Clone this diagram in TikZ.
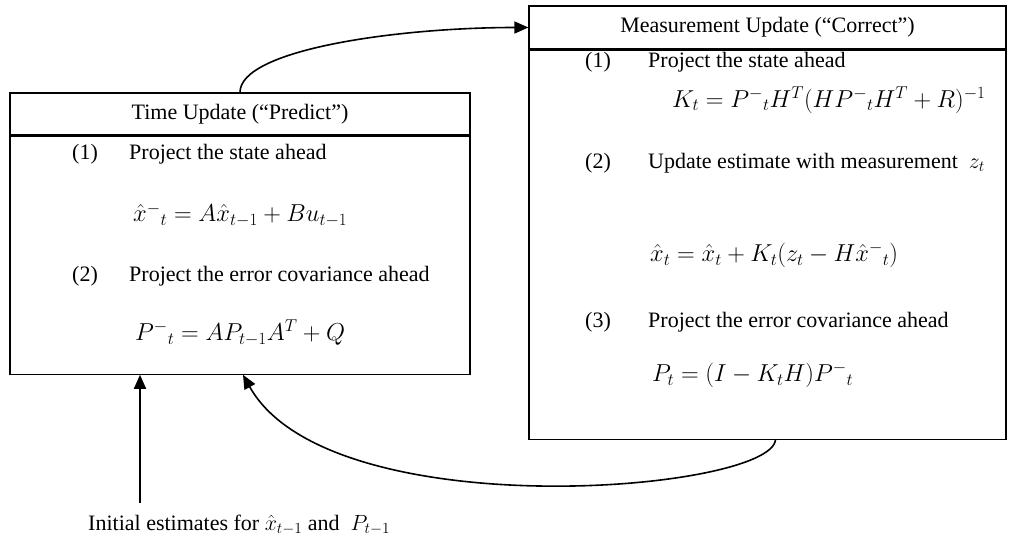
\RequirePackage{fix-cm}
\documentclass[tikz,border=0pt]{standalone}
\usepackage{fontspec}
\setmainfont{Liberation Serif}
\usetikzlibrary{arrows.meta, positioning}
\tikzset{
  panel/.style={draw, line width=1.2pt, inner sep=0pt},
  lbl/.style={font=\fontsize{22}{26}\selectfont, inner sep=0pt, anchor=west},
  eqn/.style={lbl, font=\fontsize{24.5}{28}\selectfont},
  flow/.style={line width=1.6pt, -{Triangle[length=14pt,width=12pt]}},
}

\begin{document}
\begin{tikzpicture}[x=1pt, y=-1pt]
            \useasboundingbox (0,0) rectangle (1010,548);

            % time update
            \node[panel, minimum width=460pt, minimum height=42pt, font=\fontsize{22}{26}\selectfont] (thead) at (240,114) {Time Update (“Predict”)};
            \node[panel, minimum width=460pt, minimum height=238pt, below=0pt of thead] (tbody) {};
            \node[lbl] (tn1) at (72,154) {(1)};
            \node[lbl] (tt1) at (129,154) {Project the state ahead};
            \node[eqn] (te1) at (133,215) {$\hat{x}^{-}{}_{t} = A\hat{x}_{t-1} + Bu_{t-1}$};
            \node[lbl] (tn2) at (72,276) {(2)};
            \node[lbl] (tt2) at (129,276) {Project the error covariance ahead};
            \node[eqn] (te2) at (135,333) {$P^{-}{}_{t} = AP_{t-1}A^{T} + Q$};

            % measurement update
            \node[panel, minimum width=477pt, minimum height=43pt, font=\fontsize{22}{26}\selectfont] (mhead) at (767.5,27.5) {Measurement Update (“Correct”)};
            \node[panel, minimum width=477pt, minimum height=389pt, below=0pt of mhead] (mbody) {};
            \node[lbl] (mn1) at (585,62) {(1)};
            \node[lbl] (mt1) at (648,62) {Project the state ahead};
            \node[eqn] (me1) at (672,100) {$K_{t} = P^{-}{}_{t}H^{T}(HP^{-}{}_{t}H^{T} + R)^{-1}$};
            \node[lbl] (mn2) at (585,163) {(2)};
            \node[lbl] (mt2) at (648,163) {Update estimate with measurement \ $z_{t}$};
            \node[eqn] (me2) at (650,255) {$\hat{x}_{t} = \hat{x}_{t} + K_{t}(z_{t} - H\hat{x}^{-}{}_{t})$};
            \node[lbl] (mn3) at (585,322) {(3)};
            \node[lbl] (mt3) at (648,322) {Project the error covariance ahead};
            \node[eqn] (me3) at (652,375) {$P_{t} = (I - K_{t}H)P^{-}{}_{t}$};

            % initial estimates
            \node[lbl] (init) at (88,525) {Initial estimates for $\hat{x}_{t-1}$ and \ $P_{t-1}$};
            \coordinate (istart) at (140,503);

            \draw[flow] (istart) -- (istart |- tbody.south);
            \draw[flow] (thead.north) .. controls +(0,-43) and +(-130,0) .. (mhead.west);
            \draw[flow] ([xshift=8pt]mbody.south) .. controls +(-5,52) and +(86,154) .. ([xshift=3pt]tbody.south);
        \end{tikzpicture}
\end{document}
